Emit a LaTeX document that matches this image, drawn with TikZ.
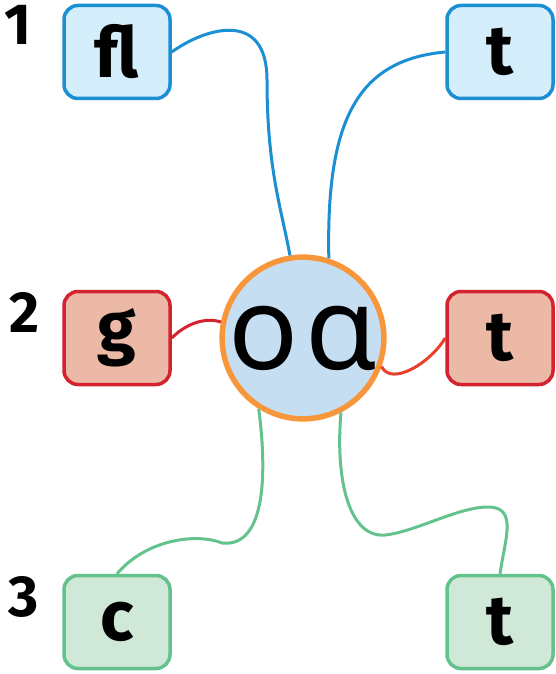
\documentclass[tikz,border=0pt]{standalone}
\usepackage{fontspec}
\setmainfont{Fira Sans}
\newfontfamily\vowelfont[LetterSpace=6]{Noto Sans}

\definecolor{blueline}{HTML}{1B8FD2}
\definecolor{bluefill}{HTML}{D4EEFB}
\definecolor{redline}{HTML}{D2232E}
\definecolor{redfill}{HTML}{EDB9A7}
\definecolor{redlink}{HTML}{E9412A}
\definecolor{greenline}{HTML}{64C28C}
\definecolor{greenfill}{HTML}{CFE8D7}
\definecolor{orangeline}{HTML}{F7963B}
\definecolor{vowelfill}{HTML}{C6DEF2}

\tikzset{
	letterbox/.style={draw, rectangle, rounded corners=14pt, line width=3.5pt,
		minimum width=106pt, minimum height=93pt, inner sep=0pt,
		font=\fontsize{70}{70}\selectfont\bfseries},
	bluebox/.style={letterbox, draw=blueline, fill=bluefill},
	redbox/.style={letterbox, draw=redline, fill=redfill},
	greenbox/.style={letterbox, draw=greenline, fill=greenfill},
	vowel/.style={draw=orangeline, fill=vowelfill, circle, line width=5.5pt,
		minimum size=156pt, inner sep=0pt,
		font=\vowelfont\fontsize{116}{116}\selectfont},
	rownum/.style={font=\fontsize{58}{58}\selectfont\bfseries},
	link/.style={line width=3pt}
}

\begin{document}
\begin{tikzpicture}[x=1pt,y=-1pt]
		\useasboundingbox (0,0) rectangle (555,674);
		
		%Blocks
		\node (oa) at (303,338) [vowel] {oɑ};
		\node (fl) at (117,52) [bluebox] {fl};
		\node (ttop) at (500,52) [bluebox] {t};
		\node (g) at (117,338) [redbox] {g};
		\node (tmid) at (500,338) [redbox] {t};
		\node (c) at (117,622) [greenbox] {c};
		\node (tlow) at (500,622) [greenbox] {t};
		
		%Row numbers
		\node (n1) at (18,25) [rownum] {1};
		\node (n2) at (24,312) [rownum] {2};
		\node (n3) at (24,597) [rownum] {3};
		
		%Links
		\draw[link, blueline] (fl.east) .. controls +(35,-25) and +(0,-70) .. (267,80) 
		.. controls +(0,90) and +(-8,-45) .. (oa.99);
		\draw[link, blueline] (ttop.west) .. controls +(-87,8) and +(-3,-140) .. (oa.72);
		\draw[link, redline] (g.east) .. controls +(15,-15) and +(-15,-5) .. (oa.169);
		\draw[link, redlink] (oa.-20) .. controls +(10,20) and +(-15,25) .. (tmid.west);
		\draw[link, greenline] (oa.238) .. controls +(8,60) and +(45,5) .. (222,543) 
		.. controls +(-25,-10) and +(30,-35) .. (c.north);
		\draw[link, greenline] (oa.297) .. controls +(-6,70) and +(-35,3) .. (385,535) 
		.. controls +(30,-3) and +(-30,0) .. (488,507) 
		.. controls +(30,0) and +(5,-35) .. (tlow.north);
		
\end{tikzpicture}
\end{document}
